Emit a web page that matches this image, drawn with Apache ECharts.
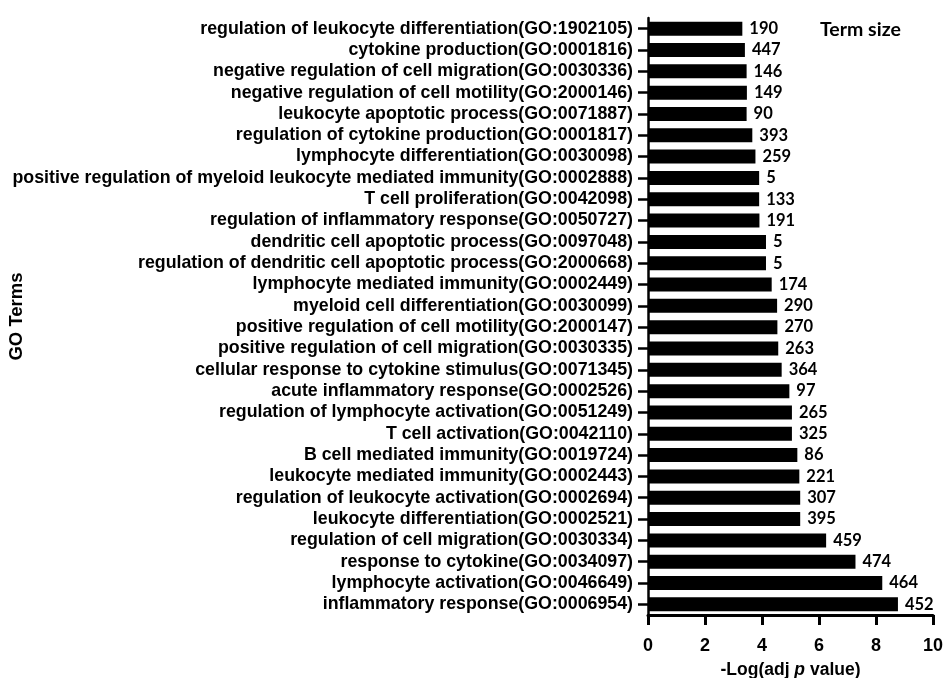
<!DOCTYPE html>
<html>
<head>
<meta charset="utf-8">
<script src="https://cdn.jsdelivr.net/npm/echarts@6/dist/echarts.min.js"></script>
<style>
  html, body { margin: 0; padding: 0; background: #fff; }
  #chart { width: 943px; height: 678px; }
</style>
</head>
<body>
<div id="chart"></div>
<script>
// GO terms, listed top to bottom
const goTerms = [
  'regulation of leukocyte differentiation(GO:1902105)',
  'cytokine production(GO:0001816)',
  'negative regulation of cell migration(GO:0030336)',
  'negative regulation of cell motility(GO:2000146)',
  'leukocyte apoptotic process(GO:0071887)',
  'regulation of cytokine production(GO:0001817)',
  'lymphocyte differentiation(GO:0030098)',
  'positive regulation of myeloid leukocyte mediated immunity(GO:0002888)',
  'T cell proliferation(GO:0042098)',
  'regulation of inflammatory response(GO:0050727)',
  'dendritic cell apoptotic process(GO:0097048)',
  'regulation of dendritic cell apoptotic process(GO:2000668)',
  'lymphocyte mediated immunity(GO:0002449)',
  'myeloid cell differentiation(GO:0030099)',
  'positive regulation of cell motility(GO:2000147)',
  'positive regulation of cell migration(GO:0030335)',
  'cellular response to cytokine stimulus(GO:0071345)',
  'acute inflammatory response(GO:0002526)',
  'regulation of lymphocyte activation(GO:0051249)',
  'T cell activation(GO:0042110)',
  'B cell mediated immunity(GO:0019724)',
  'leukocyte mediated immunity(GO:0002443)',
  'regulation of leukocyte activation(GO:0002694)',
  'leukocyte differentiation(GO:0002521)',
  'regulation of cell migration(GO:0030334)',
  'response to cytokine(GO:0034097)',
  'lymphocyte activation(GO:0046649)',
  'inflammatory response(GO:0006954)'
];

// -Log(adj p value) for each term
const negLogAdjP = [
  3.31, 3.40, 3.46, 3.47, 3.46, 3.66, 3.77, 3.90, 3.90, 3.91,
  4.14, 4.14, 4.34, 4.53, 4.54, 4.57, 4.69, 4.96, 5.05, 5.05,
  5.24, 5.31, 5.34, 5.34, 6.25, 7.28, 8.22, 8.77
];

// number of genes annotated to each term
const termSize = [
  190, 447, 146, 149, 90, 393, 259, 5, 133, 191,
  5, 5, 174, 290, 270, 263, 364, 97, 265, 325,
  86, 221, 307, 395, 459, 474, 464, 452
];

// x axis ticks
const xTicks = [0, 2, 4, 6, 8, 10];

const chart = echarts.init(document.getElementById('chart'), null, { renderer: 'canvas' });

const axisFont = 'Liberation Sans, Arial, sans-serif';
const sizeFont = 'Lato, "Open Sans", sans-serif';

chart.setOption({
  animation: false,
  backgroundColor: '#ffffff',
  title: {
    text: 'Term size',
    left: 815,
    top: 15,
    textStyle: { fontFamily: sizeFont, fontWeight: 'bold', fontSize: 19.5, color: '#000' }
  },
  grid: { left: 648, right: 10, top: 18, bottom: 63, containLabel: false, outerBoundsMode: 'none' },
  xAxis: {
    type: 'value',
    min: xTicks[0],
    max: xTicks[xTicks.length - 1],
    interval: xTicks[1] - xTicks[0],
    splitLine: { show: false },
    axisLine: { show: true, lineStyle: { color: '#000', width: 3 } },
    axisTick: { show: true, inside: false, length: 10, lineStyle: { color: '#000', width: 3 } },
    axisLabel: { color: '#000', fontFamily: axisFont, fontWeight: 'bold', fontSize: 18, margin: 22 },
    name: '{a|-Log(adj }{i|p}{a| value)}',
    nameLocation: 'middle',
    nameGap: 46,
    nameMoveOverlap: false,
    nameTextStyle: {
      rich: {
        a: { fontFamily: axisFont, fontWeight: 'bold', fontSize: 17.5, color: '#000' },
        i: { fontFamily: axisFont, fontWeight: 'bold', fontStyle: 'italic', fontSize: 17.5, color: '#000' }
      }
    }
  },
  yAxis: {
    type: 'category',
    data: goTerms,
    inverse: true,
    axisLine: { show: true, lineStyle: { color: '#000', width: 2.5 } },
    axisTick: { show: true, inside: false, alignWithLabel: true, length: 10, lineStyle: { color: '#000', width: 2.5 } },
    axisLabel: { color: '#000', fontFamily: axisFont, fontWeight: 'bold', fontSize: 17.8, margin: 15, interval: 0 },
    name: 'GO Terms',
    nameLocation: 'middle',
    nameRotate: 90,
    nameGap: 622,
    nameMoveOverlap: false,
    nameTextStyle: { fontFamily: axisFont, fontWeight: 'bold', fontSize: 18.5, color: '#000' }
  },
  series: [{
    type: 'bar',
    data: negLogAdjP,
    barWidth: 14,
    itemStyle: { color: '#000' },
    label: {
      show: true,
      position: 'right',
      distance: 7,
      formatter: p => String(termSize[p.dataIndex]),
      fontFamily: sizeFont,
      fontWeight: 'bold',
      fontSize: 16.5,
      color: '#000'
    }
  }]
});
</script>
</body>
</html>
